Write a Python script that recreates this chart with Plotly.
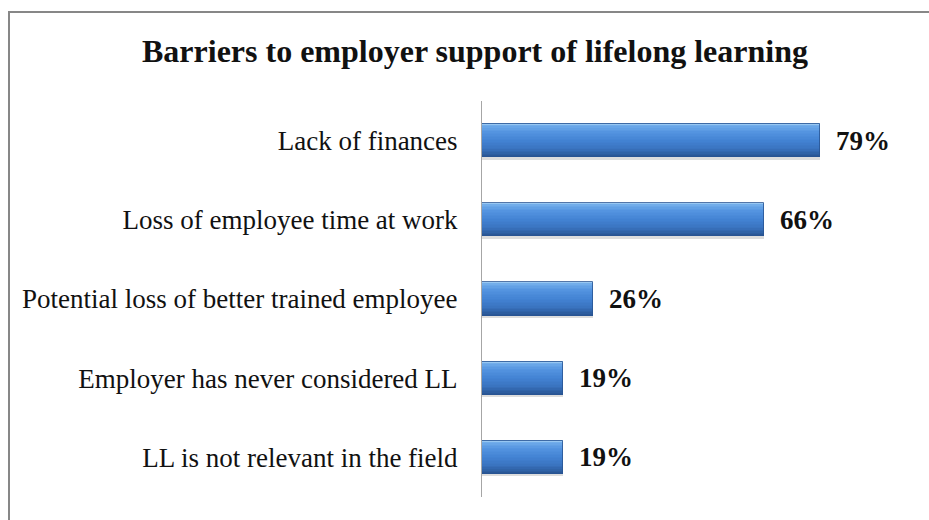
import plotly.graph_objects as go

# Survey results: share of employers citing each barrier
categories = [
    "Lack of finances",
    "Loss of employee time at work",
    "Potential loss of better trained employee",
    "Employer has never considered LL",
    "LL is not relevant in the field",
]
shares = [79, 66, 26, 19, 19]
value_labels = ["79%", "66%", "26%", "19%", "19%"]

title_text = "Barriers to employer support of lifelong learning"

W, H = 929, 520
M_L, M_R, M_T, M_B = 482, 19, 101, 23
X_MAX = 100
BAR_W = 0.42
SERIF = "Liberation Serif, Times New Roman, serif"

fig = go.Figure()

# soft drop shadow below each bar
fig.add_trace(go.Bar(
    y=categories, x=shares, orientation="h",
    width=BAR_W, offset=-BAR_W / 2 + 0.03,
    marker=dict(color="rgba(120,120,120,0.25)", line=dict(width=0)),
    hoverinfo="skip", showlegend=False,
))

# vertical colour profile of the bevelled bar (position 0 = top edge)
stops = [
    (0.00, (170, 212, 246)),
    (0.07, (112, 172, 234)),
    (0.25, (84, 148, 224)),
    (0.50, (67, 131, 212)),
    (0.75, (58, 116, 192)),
    (0.90, (47, 97, 165)),
    (1.00, (40, 84, 146)),
]

def colour_at(t):
    for (t0, c0), (t1, c1) in zip(stops[:-1], stops[1:]):
        if t0 <= t <= t1:
            f = (t - t0) / (t1 - t0) if t1 > t0 else 0
            r, g, b = (round(a + (b_ - a) * f) for a, b_ in zip(c0, c1))
            return f"rgb({r},{g},{b})"
    r, g, b = stops[-1][1]
    return f"rgb({r},{g},{b})"

N_BANDS = 22
for i in range(N_BANDS):
    start = i / N_BANDS
    end = (i + 1) / N_BANDS
    fig.add_trace(go.Bar(
        y=categories, x=shares, orientation="h",
        width=BAR_W * (end - start) * 1.02,
        offset=-BAR_W / 2 + BAR_W * start,
        marker=dict(color=colour_at((start + end) / 2), line=dict(width=0)),
        hoverinfo="skip", showlegend=False,
    ))

# outline around the full bar
fig.add_trace(go.Bar(
    y=categories, x=shares, orientation="h",
    width=BAR_W, offset=-BAR_W / 2,
    marker=dict(color="rgba(0,0,0,0)", line=dict(color="rgba(40,84,146,0.8)", width=1)),
    hoverinfo="skip", showlegend=False,
))

# value labels at the end of each bar
for cat, val, lab in zip(categories, shares, value_labels):
    fig.add_annotation(
        x=val, y=cat, xref="x", yref="y", text=f"<b>{lab}</b>",
        showarrow=False, xanchor="left", yanchor="middle", xshift=14,
        font=dict(family=SERIF, size=27, color="#111111"),
    )

pw = W - M_L - M_R
ph = H - M_T - M_B

def px_x(px):
    return (px - M_L) / pw

def px_y(py):
    return (H - M_B - py) / ph

# chart frame
fig.add_shape(
    type="rect", xref="paper", yref="paper",
    x0=px_x(9), x1=px_x(W + 10), y0=px_y(H + 10), y1=px_y(12),
    line=dict(color="#878787", width=2), fillcolor="rgba(0,0,0,0)",
    layer="above",
)

fig.update_layout(
    width=W, height=H,
    margin=dict(l=M_L, r=M_R, t=M_T, b=M_B, autoexpand=False),
    paper_bgcolor="white", plot_bgcolor="white",
    barmode="overlay", bargap=0,
    showlegend=False,
    title=dict(
        text=f"<b>{title_text}</b>",
        xref="container", yref="container",
        x=475 / W, y=1 - 51 / H, xanchor="center", yanchor="middle",
        font=dict(family=SERIF, size=32, color="#111111"),
    ),
    xaxis=dict(
        range=[0, X_MAX], visible=False, fixedrange=True,
    ),
    yaxis=dict(
        autorange="reversed", type="category",
        showline=True, linecolor="#a6a6a6", linewidth=1,
        showgrid=False, zeroline=False, ticks="",
        ticklabelstandoff=18,
        tickfont=dict(family=SERIF, size=27, color="#111111"),
    ),
)

fig.write_html("out.html")
